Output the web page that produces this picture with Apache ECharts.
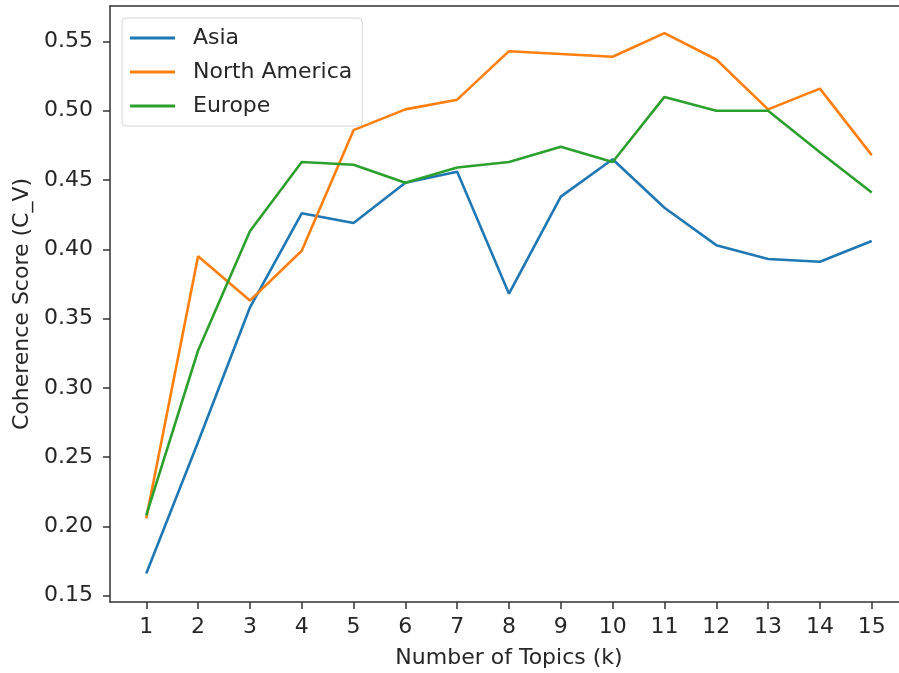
<!DOCTYPE html>
<html>
<head>
<meta charset="utf-8">
<script src="https://cdn.jsdelivr.net/npm/echarts@6/dist/echarts.min.js"></script>
<style>html,body{margin:0;padding:0;background:#fff;}#c{width:899px;height:673px;}</style>
</head>
<body>
<div id="c"></div>
<script>
const topics = [1,2,3,4,5,6,7,8,9,10,11,12,13,14,15];
const asia = [0.166,0.261,0.358,0.426,0.419,0.448,0.456,0.368,0.438,0.465,0.430,0.403,0.393,0.391,0.406];
const northAmerica = [0.206,0.395,0.363,0.399,0.486,0.501,0.508,0.543,0.541,0.539,0.556,0.537,0.501,0.516,0.468];
const europe = [0.208,0.327,0.413,0.463,0.461,0.448,0.459,0.463,0.474,0.463,0.510,0.500,0.500,0.470,0.441];
const yTicks = [0.15,0.20,0.25,0.30,0.35,0.40,0.45,0.50,0.55];
const seriesNames = ['Asia','North America','Europe'];
const colors = ['#1f77b4','#ff7f0e','#2ca02c'];

const font = 'DejaVu Sans';
const txt = '#262626';
const pair = arr => topics.map((k,i)=>[k,arr[i]]);

const chart = echarts.init(document.getElementById('c'));
chart.setOption({
  animation:false,
  backgroundColor:'#fff',
  grid:{left:110,right:-9,top:6,bottom:71,outerBoundsMode:'none',containLabel:false,show:false},
  legend:{
    data:seriesNames,
    orient:'vertical',
    left:122, top:18,
    padding:[9,10,9,8],
    itemGap:12,
    itemWidth:45, itemHeight:3,
    icon:'rect',
    backgroundColor:'rgba(255,255,255,0.8)',
    borderColor:'#d6d6d6', borderWidth:1, borderRadius:4,
    textStyle:{fontFamily:font,fontSize:22,color:txt,lineHeight:20,padding:[0,0,0,13]}
  },
  xAxis:[{
    type:'value', min:0.3, max:15.7,
    name:'Number of Topics (k)', nameLocation:'middle', nameGap:45,
    nameTextStyle:{fontFamily:font,fontSize:22,color:txt},
    axisLine:{show:true,lineStyle:{color:'#333',width:1.5}},
    axisTick:{show:true,length:7,lineStyle:{color:'#333',width:1.5},customValues:topics},
    axisLabel:{fontFamily:font,fontSize:22,color:txt,margin:14,customValues:topics},
    splitLine:{show:false}
  },{
    type:'value', min:0.3, max:15.7, position:'top',
    axisLine:{show:true,lineStyle:{color:'#333',width:1.5}},
    axisTick:{show:false}, axisLabel:{show:false}, splitLine:{show:false}
  }],
  yAxis:{
    type:'value', min:0.1455, max:0.5756,
    name:'Coherence Score (C_V)', nameLocation:'middle', nameGap:76,
    nameTextStyle:{fontFamily:font,fontSize:22,color:txt},
    axisLine:{show:true,lineStyle:{color:'#333',width:1.5}},
    axisTick:{show:true,length:7,lineStyle:{color:'#333',width:1.5},customValues:yTicks},
    axisLabel:{fontFamily:font,fontSize:22,color:txt,margin:17,customValues:yTicks,formatter:v=>v.toFixed(2)},
    splitLine:{show:false}
  },
  series:[
    {name:seriesNames[0],type:'line',data:pair(asia),symbol:'none',lineStyle:{color:colors[0],width:2.6},itemStyle:{color:colors[0]}},
    {name:seriesNames[1],type:'line',data:pair(northAmerica),symbol:'none',lineStyle:{color:colors[1],width:2.6},itemStyle:{color:colors[1]}},
    {name:seriesNames[2],type:'line',data:pair(europe),symbol:'none',lineStyle:{color:colors[2],width:2.6},itemStyle:{color:colors[2]}}
  ]
});
</script>
</body>
</html>
